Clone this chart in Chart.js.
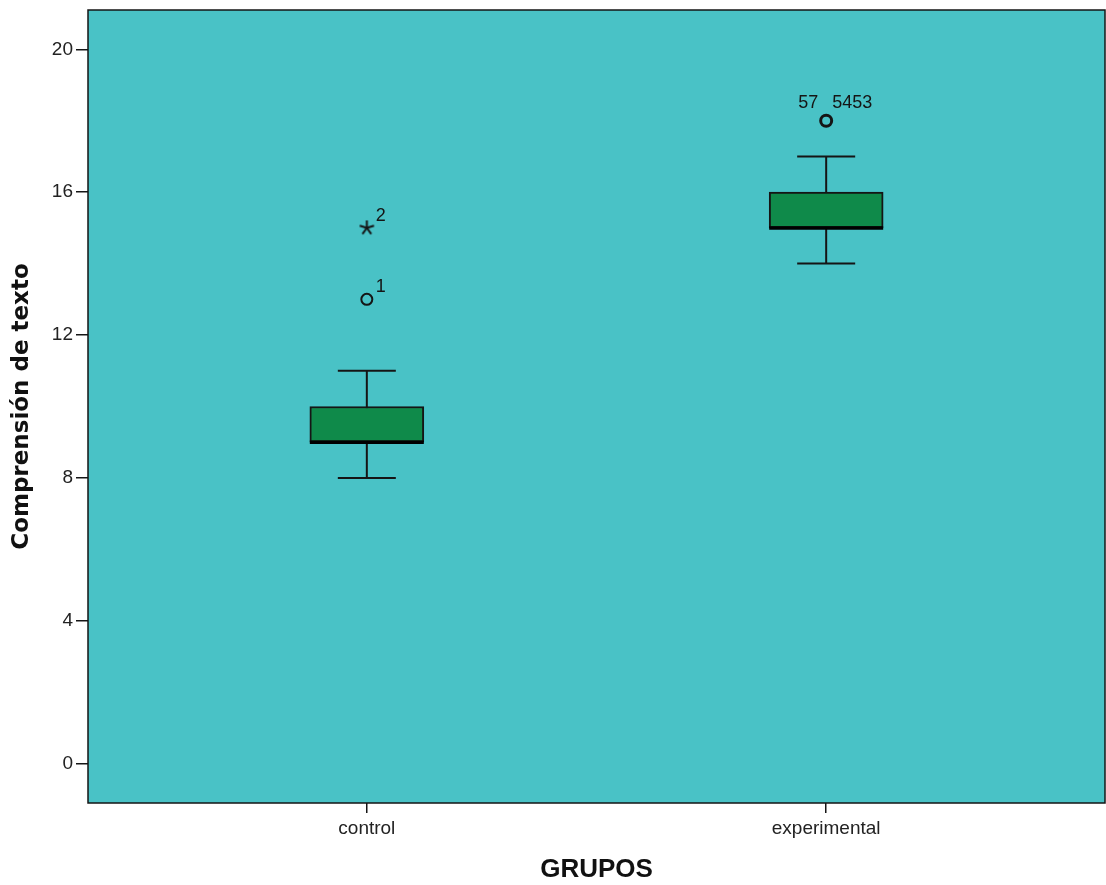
<!DOCTYPE html>
<html>
<head>
<meta charset="utf-8">
<script src="https://cdn.jsdelivr.net/npm/chart.js@4.4.1/dist/chart.umd.min.js"></script>
<style>
  html, body { margin: 0; padding: 0; background: #fff; }
  #wrap { width: 1106px; height: 885px; }
</style>
</head>
<body>
<div id="wrap"><canvas id="boxChart"></canvas></div>
<script>
// --- data ---
const categories = ["control", "experimental"];
const categoryPos = [1, 2];
const whiskerLow = [8, 14];
const boxLow = [9, 15];
const medians = [9, 15];
const boxHigh = [10, 16];
const whiskerHigh = [11, 17];
const outliers = [[13], [18]];
const outlierIds = [[["1"]], [["57", "5453"]]];
const extremes = [[15], []];
const extremeIds = [[["2"]], []];
const yTicks = [0, 4, 8, 12, 16, 20];
const yTitle = "Comprensión de texto";
const xTitle = "GRUPOS";

const INK = "#151515";
const PLOT_BG = "#49c2c6";
const BOX_FILL = "#0f8a4a";
const SANS = "'Liberation Sans', Arial, sans-serif";

// 5-armed asterisk used for extreme values
function makeAsterisk(size, lw) {
  const c = document.createElement("canvas");
  c.width = size;
  c.height = size;
  const g = c.getContext("2d");
  g.strokeStyle = INK;
  g.lineWidth = lw;
  const r = size / 2 - 1;
  for (let k = 0; k < 5; k++) {
    const a = -Math.PI / 2 + (k * 2 * Math.PI) / 5;
    g.beginPath();
    g.moveTo(size / 2, size / 2);
    g.lineTo(size / 2 + r * Math.cos(a), size / 2 + r * Math.sin(a));
    g.stroke();
  }
  return c;
}

const plotArea = {
  id: "plotArea",
  beforeDraw(chart) {
    const { ctx, chartArea: a } = chart;
    ctx.save();
    ctx.fillStyle = PLOT_BG;
    ctx.fillRect(a.left, a.top, a.right - a.left, a.bottom - a.top);
    ctx.restore();
  },
  afterDraw(chart) {
    const { ctx, chartArea: a } = chart;
    ctx.save();
    ctx.strokeStyle = INK;
    ctx.lineWidth = 1.5;
    ctx.strokeRect(a.left, a.top, a.right - a.left, a.bottom - a.top);
    ctx.restore();
  },
};

// case numbers beside outliers
const caseLabels = {
  id: "caseLabels",
  afterDatasetsDraw(chart) {
    const { ctx } = chart;
    ctx.save();
    ctx.fillStyle = INK;
    ctx.font = "18px " + SANS;
    ctx.textBaseline = "alphabetic";
    chart.data.datasets.forEach((ds, di) => {
      if (!ds.caseIds) return;
      chart.getDatasetMeta(di).data.forEach((pt, i) => {
        const ids = ds.caseIds[i] || [];
        if (ids.length === 1) {
          ctx.textAlign = "left";
          ctx.fillText(ids[0], pt.x + 9, pt.y - 7);
        } else if (ids.length > 1) {
          ctx.textAlign = "right";
          ctx.fillText(ids[0], pt.x - 8, pt.y - 13);
          ctx.textAlign = "left";
          ctx.fillText(ids.slice(1).join(""), pt.x + 6, pt.y - 13);
        }
      });
    });
    ctx.restore();
  },
};

const datasets = [];

datasets.push({
  type: "bar",
  data: categoryPos.map((x, i) => ({ x, y: [boxLow[i], boxHigh[i]] })),
  backgroundColor: BOX_FILL,
  borderColor: INK,
  borderWidth: 2,
  borderSkipped: false,
  barThickness: 114,
  order: 2,
});

categoryPos.forEach((x, i) => {
  datasets.push({
    type: "line",
    data: [{ x, y: whiskerLow[i] }, { x, y: whiskerHigh[i] }],
    borderColor: INK,
    borderWidth: 2,
    pointRadius: 0,
    order: 4,
  });
});

datasets.push({
  type: "scatter",
  data: categoryPos.flatMap((x, i) => [
    { x, y: whiskerLow[i] },
    { x, y: whiskerHigh[i] },
  ]),
  pointStyle: "line",
  pointRadius: 29,
  borderColor: INK,
  borderWidth: 2,
  order: 3,
});

datasets.push({
  type: "scatter",
  data: categoryPos.map((x, i) => ({ x, y: medians[i] })),
  pointStyle: "line",
  pointRadius: 57,
  borderColor: "#000",
  borderWidth: 3.5,
  order: 1,
});

datasets.push({
  type: "scatter",
  data: categoryPos.flatMap((x, i) => outliers[i].map((y) => ({ x, y }))),
  caseIds: outlierIds.flat(),
  pointStyle: "circle",
  pointRadius: 5.5,
  backgroundColor: "transparent",
  borderColor: INK,
  borderWidth: [2, 3],
  order: 0,
});

datasets.push({
  type: "scatter",
  data: categoryPos.flatMap((x, i) => extremes[i].map((y) => ({ x, y }))),
  caseIds: extremeIds.flat(),
  pointStyle: makeAsterisk(17, 2),
  pointRadius: 8,
  order: 0,
});

new Chart(document.getElementById("boxChart"), {
  data: { datasets },
  plugins: [plotArea, caseLabels],
  options: {
    responsive: true,
    maintainAspectRatio: false,
    animation: false,
    events: [],
    layout: {
      autoPadding: false,
      padding: { left: 0, top: 10, right: 1, bottom: 0 },
    },
    plugins: { legend: { display: false }, tooltip: { enabled: false } },
    scales: {
      x: {
        type: "linear",
        min: 0.393,
        max: 2.607,
        offset: false,
        afterBuildTicks: (s) => {
          s.ticks = categoryPos.map((v) => ({ value: v }));
        },
        afterFit: (s) => {
          s.height = 82;
          s.paddingLeft = 0;
          s.paddingRight = 0;
        },
        grid: {
          offset: false,
          drawOnChartArea: false,
          tickLength: 10,
          color: INK,
          lineWidth: 1.5,
        },
        border: { display: false },
        ticks: {
          padding: 4,
          color: "#222",
          font: { family: SANS, size: 19 },
          callback: (v) => categories[categoryPos.indexOf(v)] || "",
        },
        title: {
          display: true,
          text: xTitle,
          color: "#111",
          padding: { top: 0, bottom: 0 },
          font: { family: SANS, size: 26, weight: "bold" },
        },
      },
      y: {
        type: "linear",
        min: -1.1,
        max: 21.1,
        afterBuildTicks: (s) => {
          s.ticks = yTicks.map((v) => ({ value: v }));
        },
        afterFit: (s) => {
          s.width = 88;
          s.paddingTop = 0;
          s.paddingBottom = 0;
        },
        grid: {
          drawOnChartArea: false,
          tickLength: 12,
          color: INK,
          lineWidth: 1.5,
        },
        border: { display: false },
        ticks: {
          padding: 3,
          color: "#222",
          font: { family: SANS, size: 19 },
        },
        title: {
          display: true,
          text: yTitle,
          color: "#111",
          padding: { top: 8, bottom: 0 },
          font: { family: "'DejaVu Sans', sans-serif", size: 23, weight: "bold" },
        },
      },
    },
  },
});
</script>
</body>
</html>
